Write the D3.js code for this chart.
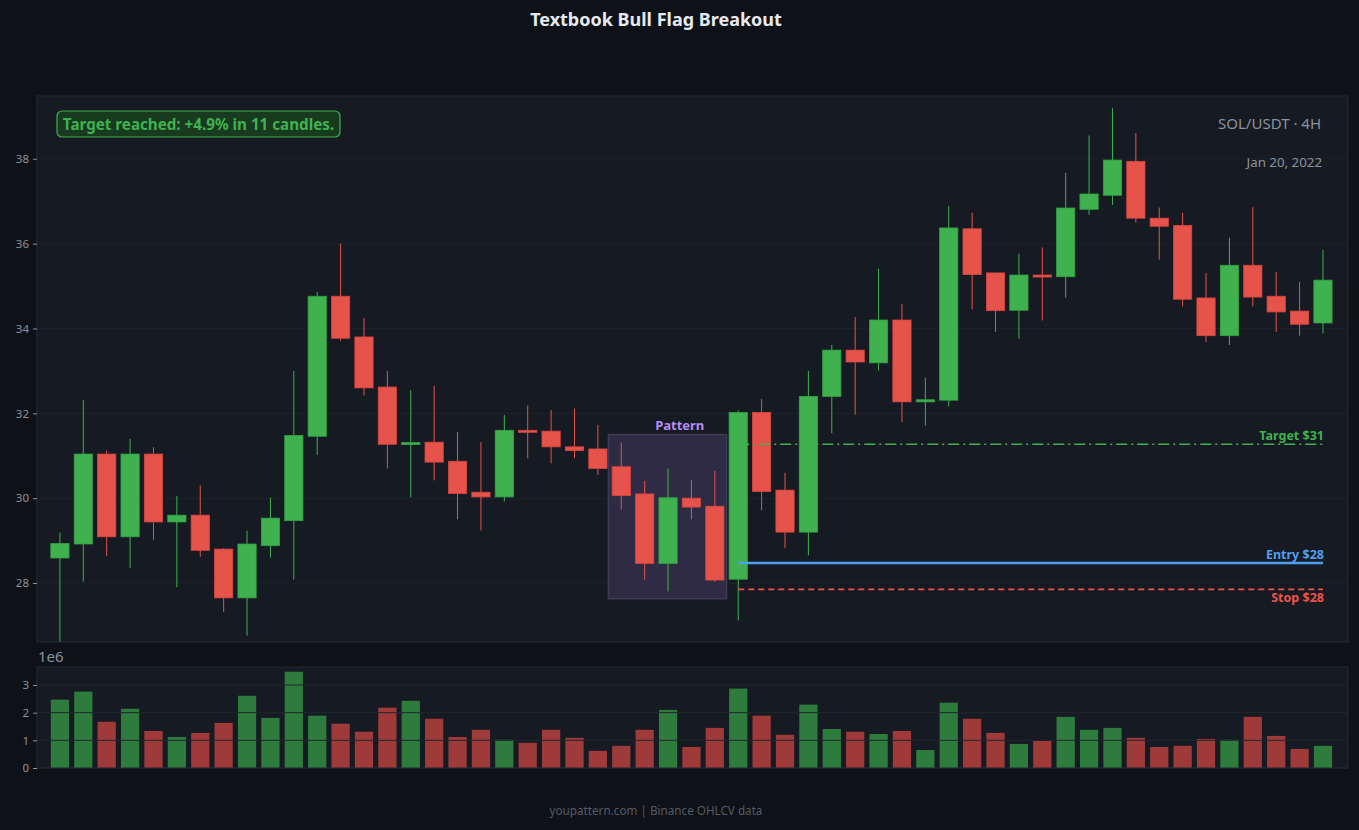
<!DOCTYPE html>
<html>
<head>
<meta charset="utf-8">
<script src="https://cdn.jsdelivr.net/npm/d3@7"></script>
<style>
  body { margin: 0; background: #0e1117; }
  svg { display: block; font-family: "Noto Sans", sans-serif; }
</style>
</head>
<body>
<div id="chart"></div>
<script>
// OHLCV (SOL/USDT 4H)
const opens  = [28.59, 28.92, 31.04, 29.09, 31.04, 29.44, 29.60, 28.80, 27.65, 28.88,
                29.47, 31.46, 34.76, 33.80, 32.62, 31.28, 31.32, 30.87, 30.14, 30.03,
                31.60, 31.58, 31.21, 31.16, 30.74, 30.10, 28.46, 30.00, 29.81, 28.09,
                32.02, 30.19, 29.20, 32.40, 33.49, 33.19, 34.20, 32.27, 32.31, 36.35,
                35.31, 34.43, 35.26, 35.22, 36.81, 37.14, 37.94, 36.60, 36.43, 34.72,
                33.83, 35.49, 34.76, 34.41, 34.13]
const highs  = [29.19, 32.32, 31.12, 31.40, 31.20, 30.05, 30.30, 28.82, 29.23, 30.02,
                33.00, 34.86, 36.00, 34.25, 33.00, 32.55, 32.65, 31.56, 31.32, 31.96,
                32.18, 32.08, 32.11, 31.73, 31.31, 30.41, 30.70, 30.43, 30.64, 32.07,
                32.34, 30.60, 33.00, 33.61, 34.27, 35.41, 34.58, 32.84, 36.89, 36.73,
                35.31, 35.76, 35.91, 37.67, 38.55, 39.20, 38.61, 36.85, 36.73, 35.31,
                36.14, 36.86, 35.33, 35.10, 35.85]
const lows   = [26.62, 28.03, 28.64, 28.35, 29.02, 27.90, 28.62, 27.32, 26.76, 28.60,
                28.08, 31.02, 33.71, 32.42, 30.70, 30.02, 30.42, 29.50, 29.24, 29.92,
                30.94, 30.82, 30.94, 30.55, 29.73, 28.08, 27.80, 29.50, 28.03, 27.12,
                29.71, 28.82, 28.65, 31.53, 31.97, 33.01, 31.79, 31.71, 32.16, 34.45,
                33.92, 33.76, 34.19, 34.73, 36.68, 36.91, 36.50, 35.62, 34.52, 33.68,
                33.61, 34.52, 33.92, 33.83, 33.88]
const closes = [28.93, 31.04, 29.09, 31.04, 29.44, 29.60, 28.77, 27.65, 28.92, 29.53,
                31.48, 34.76, 33.77, 32.60, 31.27, 31.31, 30.85, 30.11, 30.03, 31.60,
                31.57, 31.21, 31.12, 30.70, 30.06, 28.46, 30.01, 29.79, 28.07, 32.02,
                30.16, 29.20, 32.40, 33.49, 33.21, 34.20, 32.27, 32.32, 36.37, 35.27,
                34.42, 35.26, 35.22, 36.84, 37.17, 37.97, 36.60, 36.41, 34.69, 33.83,
                35.49, 34.74, 34.39, 34.10, 35.14]
const volumes = [2.47, 2.76, 1.67, 2.14, 1.34, 1.12, 1.27, 1.63, 2.61, 1.81,
                 3.48, 1.89, 1.60, 1.31, 2.18, 2.43, 1.78, 1.12, 1.38, 1.02,
                 0.91, 1.38, 1.09, 0.62, 0.80, 1.38, 2.10, 0.76, 1.45, 2.87,
                 1.89, 1.20, 2.29, 1.41, 1.31, 1.23, 1.34, 0.65, 2.36, 1.78,
                 1.27, 0.87, 0.98, 1.85, 1.38, 1.45, 1.09, 0.76, 0.80, 1.05,
                 1.02, 1.85, 1.16, 0.69, 0.80].map(v => v * 1e6)

const priceTicks = [28, 30, 32, 34, 36, 38]
const volumeTicks = [0, 1e6, 2e6, 3e6]

// trade levels
const levelNames = ["Target $31", "Entry $28", "Stop $28"]
const levelValues = [31.27, 28.47, 27.85]
const breakoutIndex = 29

// pattern (flag) zone
const patternStart = 24, patternEnd = 28
const patternTop = 31.5, patternBottom = 27.63

const W = 1359, H = 830
const up = "#3fb24f", down = "#e5534b"
const upVol = "#2e7b3e", downVol = "#9e3b3a"

const svg = d3.select("#chart").append("svg")
    .attr("width", W)
    .attr("height", H)

svg.append("rect").attr("width", W).attr("height", H).attr("fill", "#0e1117")

// panels
const main = { left: 37, right: 1348, top: 96, bottom: 642 }
const vol = { left: 37, right: 1348, top: 667, bottom: 768 }

const x = d3.scaleLinear()
    .domain([-0.98, 55.07])
    .range([main.left, main.right])
const y = d3.scaleLinear()
    .domain([26.61, 39.48])
    .range([main.bottom, main.top])
const yv = d3.scaleLinear()
    .domain([0, 3.65e6])
    .range([vol.bottom, vol.top])

const step = x(1) - x(0)
const bodyW = step * 0.78

svg.append("rect")
    .attr("x", main.left).attr("y", main.top)
    .attr("width", main.right - main.left).attr("height", main.bottom - main.top)
    .attr("fill", "#161a22").attr("stroke", "#252a33")

svg.append("rect")
    .attr("x", vol.left).attr("y", vol.top)
    .attr("width", vol.right - vol.left).attr("height", vol.bottom - vol.top)
    .attr("fill", "#161a22").attr("stroke", "#252a33")

// grid
svg.append("g").selectAll("line")
    .data(priceTicks)
    .join("line")
    .attr("x1", main.left).attr("x2", main.right)
    .attr("y1", d => y(d)).attr("y2", d => y(d))
    .attr("stroke", "#1e232b")

// y axis (price)
const yAxis = svg.append("g")
    .attr("transform", `translate(${main.left},0)`)
    .call(d3.axisLeft(y).tickValues(priceTicks).tickSize(4).tickPadding(4))
yAxis.select(".domain").remove()
yAxis.selectAll("line").attr("stroke", "#8b929c")
yAxis.selectAll("text").attr("fill", "#8b929c").attr("font-size", 11.5)
    .attr("font-family", "Noto Sans")

// pattern box
svg.append("rect")
    .attr("x", x(patternStart) - step * 0.55)
    .attr("y", y(patternTop))
    .attr("width", x(patternEnd) - x(patternStart) + step * 1.05)
    .attr("height", y(patternBottom) - y(patternTop))
    .attr("fill", "#302b44")
    .attr("stroke", "#3f3859")
    .attr("stroke-width", 1.5)

svg.append("text")
    .attr("x", x(patternStart + 2.5))
    .attr("y", y(patternTop) - 5)
    .attr("text-anchor", "middle")
    .attr("fill", "#b48ef5")
    .attr("font-size", 13)
    .attr("font-weight", "bold")
    .text("Pattern")

// candles
const idx = d3.range(opens.length)
const candles = svg.append("g").selectAll("g")
    .data(idx)
    .join("g")
candles.append("line")
    .attr("x1", i => x(i)).attr("x2", i => x(i))
    .attr("y1", i => y(highs[i])).attr("y2", i => y(lows[i]))
    .attr("stroke", i => closes[i] >= opens[i] ? up : down)
    .attr("stroke-width", 1)
candles.append("rect")
    .attr("x", i => x(i) - bodyW / 2)
    .attr("width", bodyW)
    .attr("y", i => y(Math.max(opens[i], closes[i])))
    .attr("height", i => Math.max(2, Math.abs(y(opens[i]) - y(closes[i]))))
    .attr("fill", i => closes[i] >= opens[i] ? up : down)
    .attr("stroke", i => closes[i] >= opens[i] ? "#33a044" : "#d8463f")
    .attr("stroke-width", 0.8)

// levels
const levelColors = ["#3fb24f", "#4f9ff0", "#f0524b"]
const levelDash = ["11,4,2,4", null, "6,4"]
const levelWidth = [1.6, 2.5, 1.7]
const xEnd = x(opens.length - 1)
levelValues.forEach((v, k) => {
    svg.append("line")
        .attr("x1", x(breakoutIndex)).attr("x2", xEnd)
        .attr("y1", y(v)).attr("y2", y(v))
        .attr("stroke", levelColors[k])
        .attr("stroke-width", levelWidth[k])
        .attr("stroke-dasharray", levelDash[k])
    svg.append("text")
        .attr("x", xEnd + 1)
        .attr("y", k === 2 ? y(v) + 4 : y(v) - 4)
        .attr("dy", k === 2 ? "0.71em" : null)
        .attr("text-anchor", "end")
        .attr("fill", levelColors[k])
        .attr("font-size", 12.5)
        .attr("font-weight", "bold")
        .text(levelNames[k])
})

// annotation
const note = svg.append("g").attr("transform", "translate(57,111)")
note.append("rect")
    .attr("width", 283).attr("height", 26).attr("rx", 5)
    .attr("fill", "#183a1f").attr("stroke", "#3fb24f").attr("stroke-width", 1.2)
note.append("text")
    .attr("x", 141.5).attr("y", 18.5)
    .attr("text-anchor", "middle")
    .attr("fill", "#3fb24f")
    .attr("font-size", 15.2)
    .attr("font-weight", "bold")
    .text("Target reached: +4.9% in 11 candles.")

svg.append("text")
    .attr("x", 1321).attr("y", 129)
    .attr("text-anchor", "end")
    .attr("fill", "#8b929c")
    .attr("font-size", 15)
    .text("SOL/USDT · 4H")
svg.append("text")
    .attr("x", 1322).attr("y", 167)
    .attr("text-anchor", "end")
    .attr("fill", "#8b929c")
    .attr("font-size", 13.3)
    .text("Jan 20, 2022")

// volume bars
svg.append("g").selectAll("rect")
    .data(idx)
    .join("rect")
    .attr("x", i => x(i) - bodyW / 2)
    .attr("width", bodyW)
    .attr("y", i => yv(volumes[i]))
    .attr("height", i => yv(0) - yv(volumes[i]))
    .attr("fill", i => closes[i] >= opens[i] ? upVol : downVol)

svg.append("g").selectAll("line")
    .data(volumeTicks)
    .join("line")
    .attr("x1", vol.left).attr("x2", vol.right)
    .attr("y1", d => yv(d)).attr("y2", d => yv(d))
    .attr("stroke", "#21262d")

const vAxis = svg.append("g")
    .attr("transform", `translate(${vol.left},0)`)
    .call(d3.axisLeft(yv).tickValues(volumeTicks).tickFormat(d => d / 1e6).tickSize(4).tickPadding(4))
vAxis.select(".domain").remove()
vAxis.selectAll("line").attr("stroke", "#8b929c")
vAxis.selectAll("text").attr("fill", "#8b929c").attr("font-size", 11.5)
    .attr("font-family", "Noto Sans")

svg.append("text")
    .attr("x", 38).attr("y", 662)
    .attr("fill", "#8b929c")
    .attr("font-size", 15)
    .text("1e6")

// title + footer
svg.append("text")
    .attr("x", 656).attr("y", 26)
    .attr("text-anchor", "middle")
    .attr("fill", "#e6e9ef")
    .attr("font-size", 18)
    .attr("font-weight", "bold")
    .text("Textbook Bull Flag Breakout")

svg.append("text")
    .attr("x", 656).attr("y", 815)
    .attr("text-anchor", "middle")
    .attr("fill", "#555b66")
    .attr("font-size", 11.7)
    .text("youpattern.com | Binance OHLCV data")
</script>
</body>
</html>
